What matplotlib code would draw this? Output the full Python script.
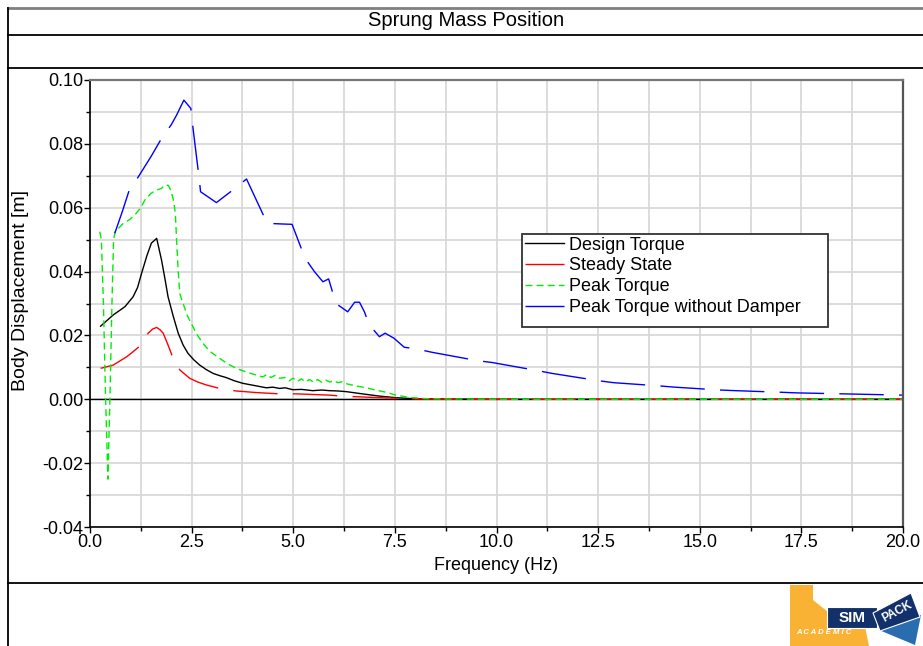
import matplotlib
matplotlib.use('Agg')
import matplotlib.pyplot as plt
from matplotlib.lines import Line2D
from matplotlib.patches import Polygon, Rectangle
from matplotlib.ticker import MultipleLocator, FormatStrFormatter

plt.rcParams['font.family'] = ['Liberation Sans', 'DejaVu Sans']

# data (frequency in Hz, displacement in m)
design_f = [0.26, 0.57, 0.86, 1.06, 1.17, 1.27, 1.40, 1.51, 1.64, 1.70, 1.76, 1.84, 1.92,
            2.05, 2.17, 2.29, 2.41, 2.55, 2.70, 2.86, 3.03, 3.19, 3.35, 3.55, 3.76, 4.05,
            4.34, 4.50, 4.66, 4.80, 4.99, 5.20, 5.48, 5.70, 5.89, 6.10, 6.30, 6.70, 7.12,
            7.53, 7.93, 8.50, 10.0, 20.0]
design_x = [0.0229, 0.0264, 0.0290, 0.0321, 0.0350, 0.0395, 0.0450, 0.0489, 0.0504, 0.0470,
            0.0436, 0.0380, 0.0321, 0.0259, 0.0207, 0.0170, 0.0144, 0.0124, 0.0107, 0.0093,
            0.0081, 0.0074, 0.0068, 0.0058, 0.0050, 0.0043, 0.0036, 0.0038, 0.0034, 0.0036,
            0.0030, 0.0031, 0.0027, 0.0029, 0.0027, 0.0026, 0.0024, 0.0017, 0.0010, 0.0005,
            0.0002, 0.0001, 0.0, 0.0]

steady_f = [0.26, 0.57, 0.90, 1.05, 1.21, 1.32, 1.43, 1.54, 1.64, 1.72, 1.80, 1.92, 2.03,
            2.12, 2.21, 2.45, 2.65, 2.86, 3.19, 3.60, 4.10, 4.66, 5.07, 5.50, 5.89, 6.09,
            6.54, 7.36, 8.00, 9.00, 20.0]
steady_x = [0.0097, 0.0107, 0.0133, 0.0148, 0.0165, 0.0185, 0.0207, 0.0220, 0.0225, 0.0218,
            0.0207, 0.0170, 0.0133, 0.0110, 0.0092, 0.0066, 0.0054, 0.0045, 0.0034, 0.0026,
            0.0021, 0.0017, 0.0017, 0.0015, 0.0013, 0.0011, 0.0008, 0.0004, 0.0001, 0.0, 0.0]

peak_f = [0.24, 0.28, 0.33, 0.38, 0.44, 0.49, 0.54, 0.58, 0.62, 0.82, 1.00, 1.14, 1.25,
          1.35, 1.50, 1.63, 1.75, 1.84, 1.93, 2.00, 2.06, 2.10, 2.13, 2.17, 2.21, 2.29,
          2.40, 2.49, 2.62, 2.78, 2.95, 3.19, 3.40, 3.60, 3.85, 4.09, 4.25, 4.35, 4.45,
          4.55, 4.66, 4.80, 4.90, 5.00, 5.10, 5.20, 5.30, 5.40, 5.50, 5.60, 5.70, 5.80,
          5.90, 6.00, 6.10, 6.20, 6.30, 6.54, 6.79, 7.03, 7.28, 7.53, 7.85, 8.26, 8.80,
          10.0, 20.0]
peak_x = [0.0525, 0.0500, 0.0300, 0.0020, -0.0250, 0.0000, 0.0300, 0.0500, 0.0525, 0.0551,
          0.0565, 0.0583, 0.0600, 0.0624, 0.0645, 0.0655, 0.0660, 0.0671, 0.0670, 0.0650,
          0.0620, 0.0580, 0.0500, 0.0400, 0.0330, 0.0300, 0.0260, 0.0238, 0.0205, 0.0175,
          0.0150, 0.0128, 0.0110, 0.0097, 0.0085, 0.0076, 0.0070, 0.0078, 0.0068, 0.0075,
          0.0066, 0.0068, 0.0058, 0.0066, 0.0056, 0.0064, 0.0054, 0.0062, 0.0053, 0.0062,
          0.0053, 0.0060, 0.0054, 0.0058, 0.0052, 0.0055, 0.0049, 0.0042, 0.0036, 0.0029,
          0.0022, 0.0013, 0.0006, 0.0002, 0.0001, 0.0, 0.0]

nodamp_f = [0.61, 0.80, 0.965, 1.19, 1.50, 1.76, 2.00, 2.13, 2.31, 2.48, 2.54, 2.68, 2.72,
            3.11, 3.60, 3.85, 4.36, 4.74, 4.97, 5.29, 5.52, 5.73, 5.87, 6.05, 6.34, 6.51,
            6.63, 6.75, 6.87, 7.12, 7.26, 7.48, 7.73, 8.02, 8.42, 9.53, 9.90, 11.0, 11.37,
            12.52, 12.88, 14.0, 14.38, 15.5, 15.88, 17.0, 17.4, 18.53, 18.9, 20.0]
nodamp_x = [0.0520, 0.0590, 0.0655, 0.0697, 0.0760, 0.0817, 0.0860, 0.0890, 0.0937, 0.0911,
            0.0843, 0.0697, 0.0650, 0.0616, 0.0664, 0.0690, 0.0551, 0.0549, 0.0548, 0.0442,
            0.0400, 0.0368, 0.0377, 0.0300, 0.0274, 0.0304, 0.0304, 0.0274, 0.0233, 0.0196,
            0.0207, 0.0191, 0.0163, 0.0158, 0.0147, 0.0121, 0.0115, 0.0090, 0.0081, 0.0058,
            0.0052, 0.0042, 0.0038, 0.0029, 0.0027, 0.0022, 0.0020, 0.0017, 0.0016, 0.0013]

labels = ['Design Torque', 'Steady State', 'Peak Torque', 'Peak Torque without Damper']

W, H = 923, 646


def px(x, y):
    # pixel position (from top left) to figure fraction
    return x / W, 1 - y / H


fig = plt.figure(figsize=(W / 100, H / 100), dpi=100)

# page frame
for (x0, y0, x1, y1, col, lw) in [(8, 8, 923, 8, '#808080', 2.0),
                                  (8, 35, 923, 35, 'black', 1.3),
                                  (8, 68, 923, 68, 'black', 1.3),
                                  (8, 583, 923, 583, 'black', 1.3),
                                  (8, 8, 8, 646, 'black', 1.3)]:
    a, b = px(x0, y0)
    c, d = px(x1, y1)
    fig.add_artist(Line2D([a, c], [b, d], color=col, lw=lw, transform=fig.transFigure))

fig.text(*px(466, 21), 'Sprung Mass Position', ha='center', va='center', fontsize=14.5)

ax_l, ax_b = px(90, 527)
ax = fig.add_axes([ax_l, ax_b, (903 - 90) / W, (527 - 80) / H])

ax.plot(design_f, design_x, color='black', lw=1.0, label=labels[0])
ax.plot(steady_f, steady_x, color='#ff0000', lw=1.0, ls=(0, (32, 11)), label=labels[1])
ax.plot(peak_f, peak_x, color='#00ee00', lw=1.0, ls=(0, (5, 3)), label=labels[2])
ax.plot(nodamp_f, nodamp_x, color='#0000ff', lw=1.0, ls=(0, (32, 11)), label=labels[3])
ax.axhline(0, color='black', lw=1.0, zorder=1.5)

ax.set_xlim(0, 20)
ax.set_ylim(-0.04, 0.10)
ax.xaxis.set_major_locator(MultipleLocator(2.5))
ax.xaxis.set_minor_locator(MultipleLocator(1.25))
ax.yaxis.set_major_locator(MultipleLocator(0.02))
ax.yaxis.set_minor_locator(MultipleLocator(0.01))
ax.xaxis.set_major_formatter(FormatStrFormatter('%.1f'))
ax.yaxis.set_major_formatter(FormatStrFormatter('%.2f'))
ax.tick_params(which='major', direction='out', length=4, width=1, labelsize=13, pad=1)
ax.tick_params(which='minor', direction='out', length=3, width=1)
ax.grid(which='both', color='#d6d6d6', lw=1.2)
ax.set_axisbelow(True)
ax.spines['top'].set_color('#777777')
ax.spines['top'].set_linewidth(1.6)
ax.spines['right'].set_color('#555555')
ax.spines['right'].set_linewidth(1.6)
ax.spines['left'].set_linewidth(1.2)
ax.spines['bottom'].set_linewidth(1.2)

fig.text(*px(496, 566), 'Frequency (Hz)', ha='center', va='center', fontsize=13)
fig.text(*px(21, 290), 'Body Displacement [m]', ha='center', va='center', fontsize=14,
         rotation=90)

# legend box drawn by hand, entries by matplotlib
bx0, bx1 = (522 - 90) / 813, (828 - 90) / 813
by0, by1 = (527 - 327) / 447, (527 - 234) / 447
ax.add_patch(Rectangle((bx0, by0), bx1 - bx0, by1 - by0, transform=ax.transAxes,
                       facecolor='white', edgecolor='#333333', lw=1.3, zorder=4))
leg = ax.legend(loc='upper left', bbox_to_anchor=(bx0, by1), borderaxespad=0,
                borderpad=0.15, frameon=False, fontsize=13, handlelength=2.2,
                handletextpad=0.25, labelspacing=0.21)
leg.set_zorder(5)

# SIMPACK academic logo
orange = [px(790, 585), px(813, 585), px(813, 600), px(828, 612), px(862, 612),
          px(869, 646), px(790, 646)]
fig.add_artist(Polygon(orange, closed=True, transform=fig.transFigure,
                       facecolor='#f9b233', edgecolor='none'))
sim_box = [px(827, 607), px(877, 607), px(877, 628), px(827, 628)]
fig.add_artist(Polygon(sim_box, closed=True, transform=fig.transFigure,
                       facecolor='#12316b', edgecolor='white', lw=0.8))
fig.text(*px(852, 618), 'SIM', ha='center', va='center', fontsize=11, fontweight='bold',
         color='white')
tri = [px(879, 630), px(921, 615), px(915, 645)]
fig.add_artist(Polygon(tri, closed=True, transform=fig.transFigure,
                       facecolor='#2a6cb0', edgecolor='none'))
pack_box = [px(873, 613), px(911, 593), px(920, 617), px(880, 631)]
fig.add_artist(Polygon(pack_box, closed=True, transform=fig.transFigure,
                       facecolor='#12316b', edgecolor='white', lw=0.8))
fig.text(*px(897, 612), 'PACK', ha='center', va='center', fontsize=8.5, fontweight='bold',
         color='white', rotation=28)
fig.text(*px(824, 632), 'A C A D E M I C', ha='center', va='center', fontsize=5.5,
         style='italic', fontweight='bold', color='white')

fig.savefig('out.png', dpi=100)
